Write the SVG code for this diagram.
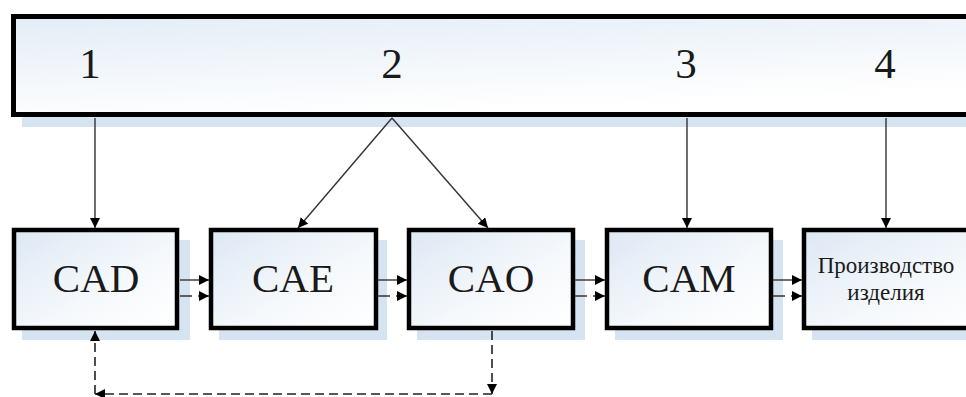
<svg xmlns="http://www.w3.org/2000/svg" width="966" height="397" viewBox="0 0 966 397">
  <defs>
    <linearGradient id="g" x1="0" y1="0" x2="1" y2="1">
      <stop offset="0" stop-color="#dde8f4"/>
      <stop offset="0.6" stop-color="#f6f9fc"/>
      <stop offset="1" stop-color="#ffffff"/>
    </linearGradient>
    <linearGradient id="gt" x1="0" y1="0" x2="0.4" y2="1">
      <stop offset="0" stop-color="#e3ecf6"/>
      <stop offset="0.7" stop-color="#f7fafd"/>
      <stop offset="1" stop-color="#ffffff"/>
    </linearGradient>
    <marker id="ah" markerUnits="userSpaceOnUse" markerWidth="11" markerHeight="11" refX="10" refY="5" orient="auto">
      <path d="M0,0 L10,5 L0,10 z" fill="#000"/>
    </marker>
  </defs>
  <style>
    .shadow { fill: #d6e3f1; }
    .box { fill: url(#g); stroke: #000; stroke-width: 4.5; }
    .lbl { font-family: "Liberation Serif", "Times New Roman", serif; fill: #1a1a1a; text-anchor: middle; }
    .big { font-size: 41px; }
    .num { font-size: 43px; }
    .small { font-size: 23px; }
    .c { stroke: #333; stroke-width: 1.4; fill: none; }
    .d { stroke: #222; stroke-width: 1.6; fill: none; stroke-dasharray: 9 5; }
  </style>

  <g id="header">
    <rect class="shadow" x="22" y="26" width="960" height="101"/>
    <rect x="13.5" y="16.5" width="980" height="98" fill="url(#gt)" stroke="#000" stroke-width="5"/>
    <text class="lbl num" x="90" y="78">1</text>
    <text class="lbl num" x="392" y="78">2</text>
    <text class="lbl num" x="686" y="78">3</text>
    <text class="lbl num" x="885" y="78">4</text>
  </g>

  <g id="cad">
    <rect class="shadow" x="22" y="240" width="168" height="100"/>
    <rect class="box" x="14" y="230" width="163" height="98"/>
    <text class="lbl big" x="96" y="292">CAD</text>
  </g>
  <g id="cae">
    <rect class="shadow" x="219" y="240" width="168" height="100"/>
    <rect class="box" x="211" y="230" width="165" height="98"/>
    <text class="lbl big" x="293" y="292">CAE</text>
  </g>
  <g id="cao">
    <rect class="shadow" x="417" y="240" width="168" height="100"/>
    <rect class="box" x="409" y="230" width="164" height="98"/>
    <text class="lbl big" x="491" y="292">CAO</text>
  </g>
  <g id="cam">
    <rect class="shadow" x="615" y="240" width="168" height="100"/>
    <rect class="box" x="607" y="230" width="164" height="98"/>
    <text class="lbl big" x="689" y="292">CAM</text>
  </g>
  <g id="production">
    <rect class="shadow" x="812" y="240" width="200" height="100"/>
    <rect class="box" x="804" y="230" width="200" height="98"/>
    <text class="lbl small" x="886" y="273">Производство</text>
    <text class="lbl small" x="886" y="300">изделия</text>
  </g>

  <g id="connectors">
    <line class="c" x1="95" y1="118" x2="95" y2="228" marker-end="url(#ah)"/>
    <line class="c" x1="392" y1="118" x2="298" y2="228" marker-end="url(#ah)"/>
    <line class="c" x1="392" y1="118" x2="488" y2="228" marker-end="url(#ah)"/>
    <line class="c" x1="687" y1="118" x2="687" y2="228" marker-end="url(#ah)"/>
    <line class="c" x1="886" y1="118" x2="886" y2="228" marker-end="url(#ah)"/>

    <line class="c" x1="180" y1="280" x2="209" y2="280" marker-end="url(#ah)"/>
    <line class="c" x1="180" y1="296" x2="209" y2="296" stroke-dasharray="12 6" marker-end="url(#ah)"/>
    <line class="c" x1="378" y1="280" x2="407" y2="280" marker-end="url(#ah)"/>
    <line class="c" x1="378" y1="296" x2="407" y2="296" stroke-dasharray="12 6" marker-end="url(#ah)"/>
    <line class="c" x1="575" y1="280" x2="605" y2="280" marker-end="url(#ah)"/>
    <line class="c" x1="575" y1="296" x2="605" y2="296" stroke-dasharray="12 6" marker-end="url(#ah)"/>
    <line class="c" x1="773" y1="280" x2="802" y2="280" marker-end="url(#ah)"/>
    <line class="c" x1="773" y1="296" x2="802" y2="296" stroke-dasharray="12 6" marker-end="url(#ah)"/>

    <line class="d" x1="492" y1="331" x2="492" y2="394" marker-end="url(#ah)"/>
    <line class="d" x1="492" y1="394" x2="95" y2="394" marker-end="url(#ah)"/>
    <line class="d" x1="95" y1="394" x2="95" y2="331" marker-end="url(#ah)"/>
  </g>
</svg>
